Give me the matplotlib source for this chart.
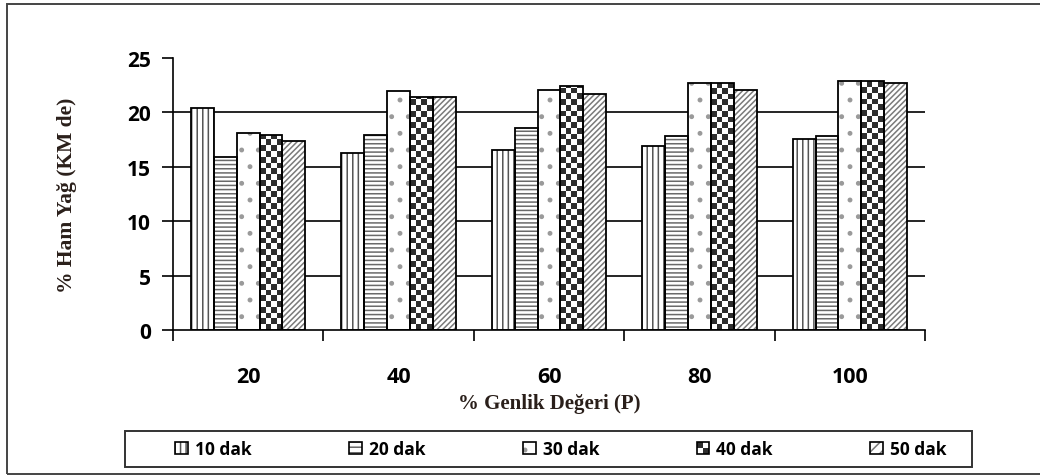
import numpy as np
import matplotlib
matplotlib.use("Agg")
import matplotlib.pyplot as plt
from matplotlib.patches import Rectangle
from matplotlib.colors import ListedColormap
from matplotlib.legend_handler import HandlerBase, HandlerTuple

# ---- data -------------------------------------------------------------
categories = ["20", "40", "60", "80", "100"]
series_names = ["10 dak", "20 dak", "30 dak", "40 dak", "50 dak"]
v10 = [20.4, 16.3, 16.5, 16.9, 17.6]
v20 = [15.9, 17.9, 18.6, 17.8, 17.8]
v30 = [18.1, 22.0, 22.1, 22.7, 22.9]
v40 = [17.9, 21.4, 22.4, 22.7, 22.9]
v50 = [17.4, 21.4, 21.7, 22.1, 22.7]
yticks = [0, 5, 10, 15, 20, 25]
ylabel = "% Ham Yağ (KM de)"
xlabel = "% Genlik Değeri (P)"

series = [v10, v20, v30, v40, v50]
hatches = ["|||", "----", ".", None, "//////"]
hatch_colors = ["#555555", "#6a6a6a", "#9a9a9a", None, "#7a7a7a"]

# ---- style ------------------------------------------------------------
plt.rcParams["hatch.linewidth"] = 1.1
sans = ["Open Sans", "DejaVu Sans"]
serif = ["Liberation Serif", "DejaVu Serif"]
label_color = "#2a1f1a"

W, H = 1040, 477
fig = plt.figure(figsize=(W / 100, H / 100), dpi=100)
ax = fig.add_axes([173 / W, 1 - 331 / H, (925 - 173) / W, (331 - 59) / H])

# outer frame around the whole chart
fig.patches.append(Rectangle((7 / W, 2 / H), 1.2, 1 - 7 / H,
                             transform=fig.transFigure, fill=False,
                             edgecolor="#444444", linewidth=1.4, zorder=0))

x = np.arange(len(categories))
width = 0.152
offsets = (np.arange(len(series)) - 2) * width

checker_cmap = ListedColormap(["white", "#2e2e2e"])
cell_h = 0.53

for k, (vals, hatch, hc) in enumerate(zip(series, hatches, hatch_colors)):
    xs = x + offsets[k]
    if hatch is not None:
        # edge colour sets the hatch colour; the outline is drawn separately
        ax.bar(xs, vals, width, facecolor="white", edgecolor=hc, linewidth=0,
               hatch=hatch, zorder=2)
    else:
        bars = ax.bar(xs, vals, width, color="white", zorder=2)
        for b in bars:
            x0 = b.get_x()
            h = b.get_height()
            nrows = int(np.ceil(h / cell_h))
            ii, jj = np.indices((nrows, 4))
            board = (ii + jj) % 2
            im = ax.imshow(board, cmap=checker_cmap, origin="lower",
                           extent=(x0, x0 + b.get_width(), 0, nrows * cell_h),
                           interpolation="nearest", aspect="auto", zorder=2.5)
            im.set_clip_path(b)
    ax.bar(xs, vals, width, fill=False, edgecolor="black", linewidth=1.3, zorder=3)

# horizontal gridlines (no line at the top value)
for yv in yticks[1:-1]:
    ax.axhline(yv, color="black", linewidth=1.2, zorder=1)

ax.set_xlim(-0.5, len(categories) - 0.5)
ax.set_ylim(yticks[0], yticks[-1])

for side in ["top", "right"]:
    ax.spines[side].set_visible(False)
for side in ["left", "bottom"]:
    ax.spines[side].set_linewidth(1.2)

ax.set_yticks(yticks)
ax.set_yticklabels([str(t) for t in yticks], fontfamily=sans, fontweight="bold",
                   fontsize=15)
ax.tick_params(axis="y", direction="out", length=8, width=1.2, pad=8)

ax.set_xticks(x)
ax.set_xticklabels(categories, fontfamily=sans, fontweight="bold", fontsize=15.5)
ax.tick_params(axis="x", which="major", length=0, pad=26)
ax.set_xticks(np.arange(-0.5, len(categories)), minor=True)
ax.tick_params(axis="x", which="minor", direction="out", length=8, width=1.2)

ax.set_ylabel(ylabel, fontfamily=serif, fontweight="bold", fontsize=15.5,
              color=label_color, labelpad=36)
ax.set_xlabel(xlabel, fontfamily=serif, fontweight="bold", fontsize=15,
              color=label_color, labelpad=4)


# ---- legend -----------------------------------------------------------
class CheckerHandler(HandlerBase):
    def create_artists(self, legend, orig_handle, xdescent, ydescent,
                       width, height, fontsize, trans):
        s = min(width, height)
        x0 = -xdescent + (width - s) / 2
        y0 = -ydescent + (height - s) / 2
        arts = []
        for i in range(2):
            for j in range(2):
                dark = (i + j) % 2 == 1
                r = Rectangle((x0 + j * s / 2, y0 + i * s / 2), s / 2, s / 2,
                              facecolor="#2e2e2e" if dark else "white",
                              edgecolor="none", transform=trans)
                arts.append(r)
        arts.append(Rectangle((x0, y0), s, s, fill=False, edgecolor="black",
                              linewidth=1.2, transform=trans))
        return arts


class CheckerKey:
    pass


handles = []
for hatch, hc in zip(hatches, hatch_colors):
    if hatch is None:
        handles.append(CheckerKey())
    else:
        fillp = Rectangle((0, 0), 1, 1, facecolor="white", edgecolor=hc,
                          linewidth=0, hatch=hatch[:3])
        edgep = Rectangle((0, 0), 1, 1, fill=False, edgecolor="black",
                          linewidth=1.2)
        handles.append((fillp, edgep))

leg = fig.legend(handles, series_names, ncol=5,
                 loc="center", bbox_to_anchor=(561 / W, 1 - 450 / H),
                 handler_map={tuple: HandlerTuple(ndivide=1),
                              CheckerKey: CheckerHandler()},
                 prop={"family": sans, "weight": "bold", "size": 12.5},
                 handlelength=0.75, handleheight=0.75, handletextpad=0.4,
                 columnspacing=5.6, frameon=False, borderpad=0,
                 borderaxespad=0)

# legend box
fig.patches.append(Rectangle((125 / W, 1 - 468 / H), (972 - 125) / W, 36 / H,
                             transform=fig.transFigure, fill=False,
                             edgecolor="#333333", linewidth=1.4, zorder=1))

fig.savefig("out.png", dpi=100)
